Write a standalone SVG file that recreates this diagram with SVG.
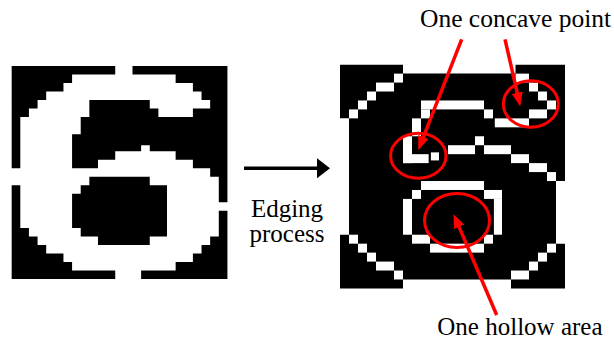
<svg xmlns="http://www.w3.org/2000/svg" width="614" height="343" viewBox="0 0 614 343">
  <style>
    .blk { fill: #000; }
    .wht { fill: #fff; }
    .lbl { font-family: 'Liberation Serif', 'DejaVu Serif', serif; font-size: 25px; fill: #000; }
    .ring { fill: none; stroke: #ff0000; stroke-width: 3; }
    .red { stroke: #ff0000; stroke-width: 3.5; fill: none; marker-end: url(#redHead); }
    .flow { stroke: #000; stroke-width: 3.5; fill: none; marker-end: url(#blkHead); }
  </style>
  <defs>
    <marker id="redHead" markerUnits="userSpaceOnUse" markerWidth="14" markerHeight="11" refX="9" refY="5.5" orient="auto">
      <path d="M0,0 L14,5.5 L0,11 z" fill="#ff0000"/>
    </marker>
    <marker id="blkHead" markerUnits="userSpaceOnUse" markerWidth="13" markerHeight="20" refX="3" refY="10" orient="auto">
      <path d="M0,0 L13,10 L0,20 z" fill="#000"/>
    </marker>
  </defs>
  <rect width="614" height="343" fill="#fff"/>

  <g id="input-image" transform="translate(11.67 66) scale(8.63 8.52)">
    <polygon class="blk" points="0,0 12,0 12,1 7,1 7,2 6,2 6,3 4,3 4,4 3,4 3,5 2,5 2,6 1,6 1,12 0,12"/>
    <polygon class="blk" points="14,0 25,0 25,16 24,16 24,13 23,13 23,12 21,12 21,11 19,11 19,10 16,10 16,9.3 15,9.3 15,10 12,10 12,11 10,11 10,12 7,12 7,8 8,8 8,6 9,6 9,4 16,4 16,5 17,5 17,6 21,6 21,5 23,5 23,4 22,4 22,3 21,3 21,2 19,2 19,1 14,1"/>
    <polygon class="blk" points="24,17 24,20 23,20 23,21 22,21 22,22 21,22 21,23 19,23 19,24 15,24 15,25 25,25 25,17"/>
    <polygon class="blk" points="0,14 1,14 1,19 2,19 2,20 3,20 3,21 4,21 4,22 6,22 6,23 7,23 7,24 12,24 12,25 0,25"/>
    <polygon class="blk" points="9,13 16,13 16,14 18,14 18,20 16,20 16,21 10,21 10,20 8,20 8,19 7,19 7,15 8,15 8,14 9,14"/>
  </g>

  <g id="edging-arrow">
    <line class="flow" x1="244" y1="168.3" x2="320" y2="168.3"/>
    <text class="lbl" x="287" y="216.5" text-anchor="middle">Edging</text>
    <text class="lbl" x="287" y="242" text-anchor="middle">process</text>
  </g>

  <g id="edge-image" transform="translate(340 64.67) scale(9 8.95)">
    <polygon class="blk" points="0,0 7,0 7,1 19.5,1 19.5,0 25,0 25,13 24,13 24,20 25,20 25,25 19,25 19,24 7,24 7,25 0,25 0,19 1,19 1,6 0,6"/>
    <rect class="wht" x="6" y="1" width="1" height="1"/>
    <rect class="wht" x="4" y="2" width="2" height="1"/>
    <rect class="wht" x="3" y="3" width="1" height="1"/>
    <rect class="wht" x="2" y="4" width="1" height="1"/>
    <rect class="wht" x="1" y="5" width="1" height="1"/>
    <rect class="wht" x="1" y="19" width="1" height="1"/>
    <rect class="wht" x="2" y="20" width="1" height="1"/>
    <rect class="wht" x="3" y="21" width="1" height="1"/>
    <rect class="wht" x="4" y="22" width="2" height="1"/>
    <rect class="wht" x="6" y="23" width="1" height="1"/>
    <rect class="wht" x="23" y="20" width="1" height="1"/>
    <rect class="wht" x="22" y="21" width="1" height="1"/>
    <rect class="wht" x="21" y="22" width="1" height="1"/>
    <rect class="wht" x="19" y="23" width="2" height="1"/>
    <rect class="wht" x="19.5" y="1" width="1.5" height="1"/>
    <rect class="wht" x="21" y="2" width="1" height="1"/>
    <rect class="wht" x="22" y="3" width="1" height="1"/>
    <rect class="wht" x="23" y="4" width="1" height="1"/>
    <rect class="wht" x="21" y="5" width="2" height="1"/>
    <rect class="wht" x="17.2" y="6" width="3.8" height="1"/>
    <rect class="wht" x="16" y="5" width="1" height="1"/>
    <rect class="wht" x="9" y="4" width="7" height="1"/>
    <rect class="wht" x="9" y="5" width="1" height="1"/>
    <rect class="wht" x="8" y="6" width="1" height="2"/>
    <rect class="wht" x="7" y="8" width="1" height="3"/>
    <rect class="wht" x="7" y="10" width="2.85" height="1"/>
    <rect class="wht" x="10.1" y="9.8" width="0.9" height="0.9"/>
    <rect class="wht" x="12" y="9" width="3" height="1"/>
    <rect class="wht" x="15" y="8" width="1" height="1"/>
    <rect class="wht" x="16" y="9" width="3" height="1"/>
    <rect class="wht" x="19" y="10" width="2" height="1"/>
    <rect class="wht" x="21" y="11" width="2" height="1"/>
    <rect class="wht" x="23" y="12" width="1" height="1"/>
    <rect class="wht" x="9" y="13" width="7" height="1"/>
    <rect class="wht" x="8" y="14" width="1" height="1"/>
    <rect class="wht" x="16" y="14" width="2" height="1"/>
    <rect class="wht" x="7" y="15" width="1" height="4"/>
    <rect class="wht" x="17.1" y="15" width="0.9" height="4"/>
    <rect class="wht" x="8" y="19" width="2" height="1"/>
    <rect class="wht" x="16" y="19" width="1" height="1"/>
    <rect class="wht" x="10" y="20" width="6" height="1"/>
  </g>

  <g id="concave-point-1">
    <ellipse class="ring" cx="418.3" cy="155.8" rx="27.7" ry="22.5"/>
  </g>
  <g id="concave-point-2">
    <ellipse class="ring" cx="530.8" cy="104" rx="27.5" ry="23.3"/>
  </g>
  <g id="hollow-area">
    <ellipse class="ring" cx="457" cy="220.5" rx="32.5" ry="27"/>
  </g>
  <g id="label-concave">
    <text class="lbl" x="420" y="26.5" style="font-size:25.5px">One concave point</text>
  </g>
  <g id="label-hollow">
    <text class="lbl" x="437.3" y="335">One hollow area</text>
  </g>

  <g id="connectors">
    <line class="red" x1="461.7" y1="39.3" x2="420.1" y2="145.3"/>
    <line class="red" x1="505" y1="39.3" x2="519.2" y2="101.6"/>
    <line class="red" x1="496.7" y1="315" x2="455.5" y2="218.6"/>
  </g>
</svg>
